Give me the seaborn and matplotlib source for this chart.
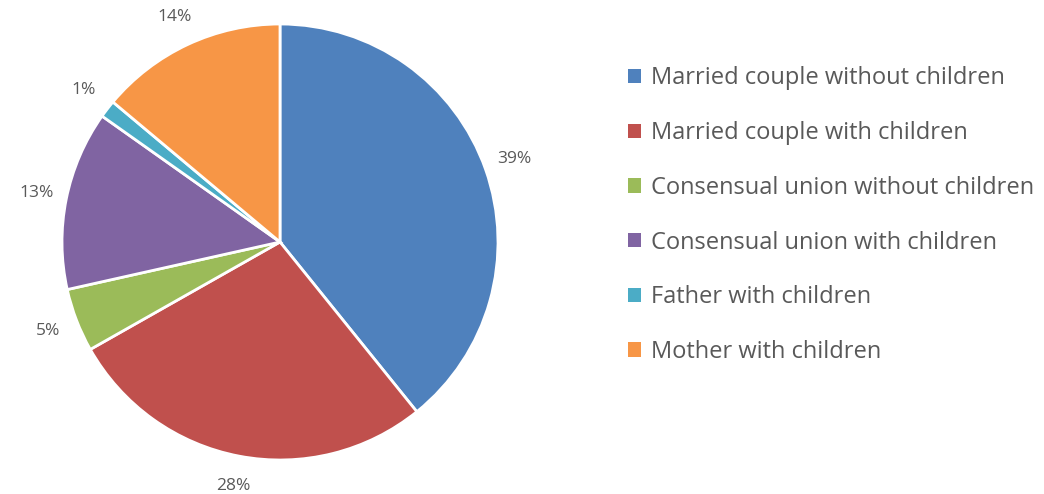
import matplotlib
matplotlib.use("Agg")
import matplotlib.pyplot as plt
import seaborn as sns
from matplotlib.patches import Patch

categories = [
    "Married couple without children",
    "Married couple with children",
    "Consensual union without children",
    "Consensual union with children",
    "Father with children",
    "Mother with children",
]
shares = [39.2, 27.6, 4.7, 13.3, 1.3, 13.9]
pct_labels = ["39%", "28%", "5%", "13%", "1%", "14%"]
hex_colors = ["#4F81BD", "#C0504D", "#9BBB59", "#8064A2", "#4BACC6", "#F79646"]

sns.set_theme(style="white")
plt.rcParams["font.family"] = ["Open Sans", "DejaVu Sans"]
colors = sns.color_palette(hex_colors)

W, H = 1044, 494
fig = plt.figure(figsize=(W / 100, H / 100), dpi=100)
cx, cy, r = 280, 242, 218
ax = fig.add_axes([(cx - r) / W, (H - cy - r) / H, 2 * r / W, 2 * r / H])

wedges, texts = ax.pie(
    shares,
    colors=colors,
    startangle=90,
    counterclock=False,
    labels=pct_labels,
    labeldistance=1.14,
    radius=1.0,
    wedgeprops=dict(edgecolor="white", linewidth=2),
    textprops=dict(fontsize=12.5, color="#595959"),
)
for t in texts:
    t.set_ha("center")
    t.set_va("center")
ax.set_xlim(-1, 1)
ax.set_ylim(-1, 1)
ax.set_aspect("equal")
ax.axis("off")

handles = [Patch(facecolor=c, edgecolor="none") for c in colors]
leg = fig.legend(
    handles,
    categories,
    loc="upper left",
    bbox_to_anchor=(619 / W, 1 - 57 / H),
    frameon=False,
    fontsize=17,
    handlelength=0.55,
    handleheight=0.55,
    handletextpad=0.4,
    labelspacing=1.3,
    borderaxespad=0,
)
for t in leg.get_texts():
    t.set_color("#595959")

fig.savefig("out.png", dpi=100)
